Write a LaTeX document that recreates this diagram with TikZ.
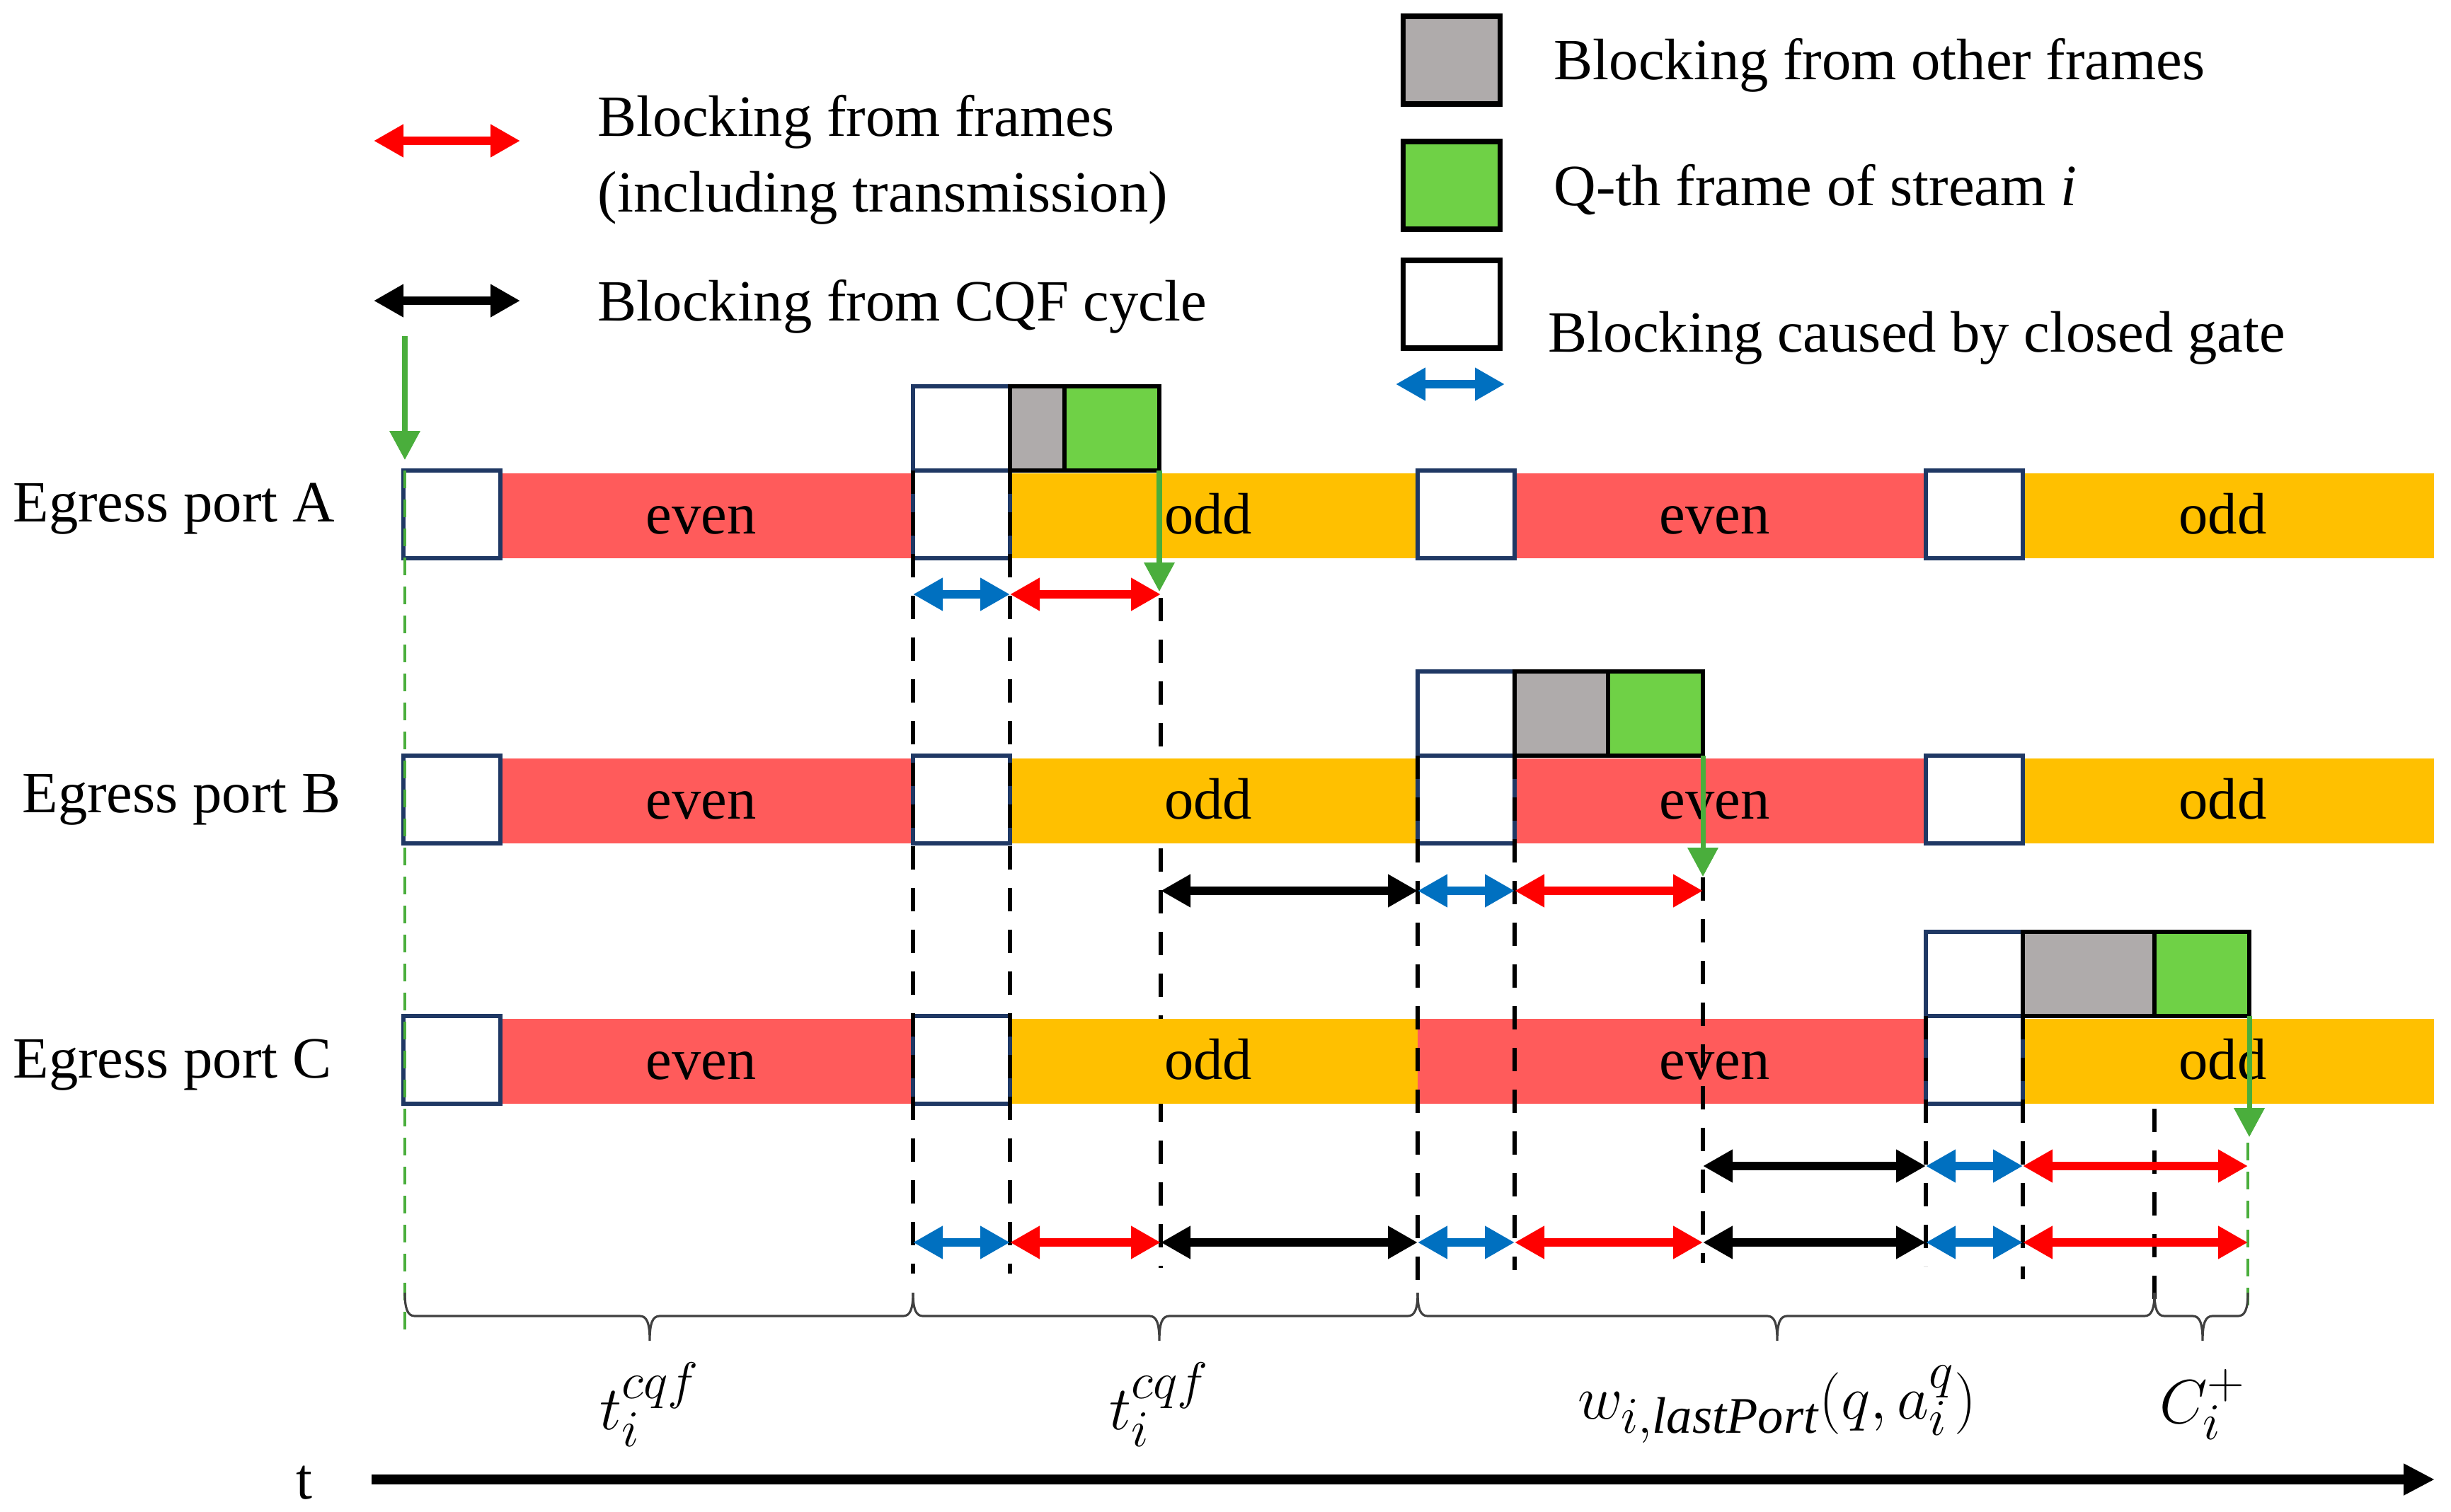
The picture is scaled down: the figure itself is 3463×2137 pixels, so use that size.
\documentclass[tikz,border=0pt]{standalone}
\usepackage{fontspec}
\setmainfont{Liberation Serif}
\usetikzlibrary{arrows.meta}
\definecolor{EvenRed}{HTML}{FF5B5B}
\definecolor{OddGold}{HTML}{FFC000}
\definecolor{OtherGrey}{HTML}{AFABAB}
\definecolor{FrameGreen}{HTML}{6FD146}
\definecolor{GateNavy}{HTML}{1F3864}
\definecolor{MarkGreen}{HTML}{4AAE3C}
\definecolor{GateBlue}{HTML}{0070C0}
\definecolor{BraceGrey}{HTML}{404040}

\begin{document}
\begin{tikzpicture}[x=.1mm,y=-.1mm,every node/.style={font=\fontsize{23.5}{30.5}\selectfont},
 gate/.style={draw=GateNavy,line width=1.6pt,fill=white,inner sep=0pt,outer sep=0pt,minimum width=13.7mm,minimum height=12.4mm,anchor=north west},
 frm/.style={draw=black,line width=1.6pt,inner sep=0pt,outer sep=0pt,minimum height=11.9mm,anchor=north west},
 legbox/.style={draw=black,line width=2pt,inner sep=0pt,minimum width=13.7mm,minimum height=12.4mm},
 dimline/.style={color=#1,line width=3.4pt,{Triangle[length=4.2mm,width=4.4mm]}-{Triangle[length=4.2mm,width=4.4mm]}},
 drop/.style={color=MarkGreen,line width=2pt,-{Triangle[length=4.1mm,width=4.2mm]}},
 guide/.style={line width=1.6pt,dash pattern=on 3.3mm off 2.6mm},
 greenguide/.style={MarkGreen,line width=1.4pt,dash pattern=on 2.5mm off 1.6mm},
 txt/.style={anchor=west,inner sep=0pt,align=left}]
\useasboundingbox(0,0)rectangle(3463,2137);
\foreach \n/\x in {0/572,1/1290,2/1427,3/1640,4/2003,5/2140,6/2406,7/2721,8/2858,9/3044,10/3176}{\coordinate(m\n)at(\x,0);}
\foreach \r/\y in {A/840,B/1259,C/1648,D/1756}{\coordinate(r\r)at(0,\y);}
\draw[guide](1640,845)--(1640,1792);
\fill[EvenRed](2003,1440)rectangle(2140,1560);
\foreach \r/\y/\gl in {A/665/{570,1290,2003,2721},B/1068/{570,1290,2003,2721},C/1436/{570,1290,2721}}{
\foreach \a/\b/\c/\t in {707/1290/EvenRed/even,1427/2003/OddGold/odd,2140/2721/EvenRed/even,2858/3439/OddGold/odd}{\fill[\c](\a,\y+4)rectangle(\b,\y+124);\node[anchor=base]at({(\a+\b)/2-8},\y+89){\t};}
\foreach \a [count=\n] in \gl {\node[gate](g\r\n)at(\a,\y){};}}
\foreach \r/\x/\y/\w in {A/1290/546/7.7,B/2003/949/13.2,C/2721/1317/18.6}{\node[gate,minimum height=11.9mm](s\r)at(\x,\y){};\node[frm,fill=OtherGrey,minimum width=\w mm](o\r)at(s\r.north east){};\node[frm,fill=FrameGreen,minimum width=13.4mm](q\r)at(o\r.north east){};\draw[drop](q\r.south east)--++(0,171);}
\foreach \x/\p/\q in {1290/665/1800,1427/665/1800,2003/1068/1822,2140/1068/1795,2406/1240/1785,2721/1436/1790,2858/1436/1808,3044/1567/1850}{\draw[guide](\x,\p)--(\x,\q);}
\draw[greenguide](572,665)--(572,1890);\draw[greenguide](3176,1615)--(3176,1850);
\draw[drop](572,475)--(572,650);
\foreach \r/\a/\b/\c in {A/1/2/GateBlue,A/2/3/red,B/3/4/black,B/4/5/GateBlue,B/5/6/red,C/6/7/black,C/7/8/GateBlue,C/8/10/red,D/1/2/GateBlue,D/2/3/red,D/3/4/black,D/4/5/GateBlue,D/5/6/red,D/6/7/black,D/7/8/GateBlue,D/8/10/red}{\draw[dimline=\c](m\a|-r\r)--(m\b|-r\r);}
\foreach \a/\m/\b/\lab in {572/918/1290/{$t_i^{cqf}$},1290/1638/2003/{$t_i^{cqf}$},2003/2511/3044/{$w_{i,\mathit{lastPort}}(q,a_i^q)$},3044/3112/3176/{$C_i^+$}}{
\draw[BraceGrey,line width=.9pt](\a,1827)..controls(\a,1850)and(\a+4,1860)..(\a+14,1860)--(\m-14,1860)..controls(\m-4,1860)and(\m,1870)..(\m,1895)..controls(\m,1870)and(\m+4,1860)..(\m+14,1860)--(\b-14,1860)..controls(\b-4,1860)and(\b,1850)..(\b,1827);
\node[font=\fontsize{29.5}{32}\selectfont](brc\a)at(\m,1985){\lab};}
\node[txt](portA)at(18,719){Egress port A};\node[txt](portB)at(31,1130){Egress port B};\node[txt](portC)at(18,1505){Egress port C};
\draw[dimline=red](528,199)--(735,199);\node[txt](keyFrames)at(844,226){Blocking from frames\\(including transmission)};
\draw[dimline=black](528,425)--(735,425);\node[txt](keyCycle)at(844,433){Blocking from CQF cycle};
\node[legbox,fill=OtherGrey](kOther)at(2051,85){};\node[txt]at(2195,92){Blocking from other frames};
\node[legbox,fill=FrameGreen](kFrame)at(2051,262){};\node[txt]at(2195,268){Q-th frame of stream \textit{i}};
\node[legbox,fill=white](kGate)at(2051,430){};\node[txt]at(2187,478){Blocking caused by closed gate};
\draw[dimline=GateBlue](1972,543)--(2126,543);
\draw[line width=4pt,-{Triangle[length=4.4mm,width=4.2mm]}](525,2091)--(3440,2091);\node(tAxis)at(430,2096){t};
\end{tikzpicture}
\end{document}
